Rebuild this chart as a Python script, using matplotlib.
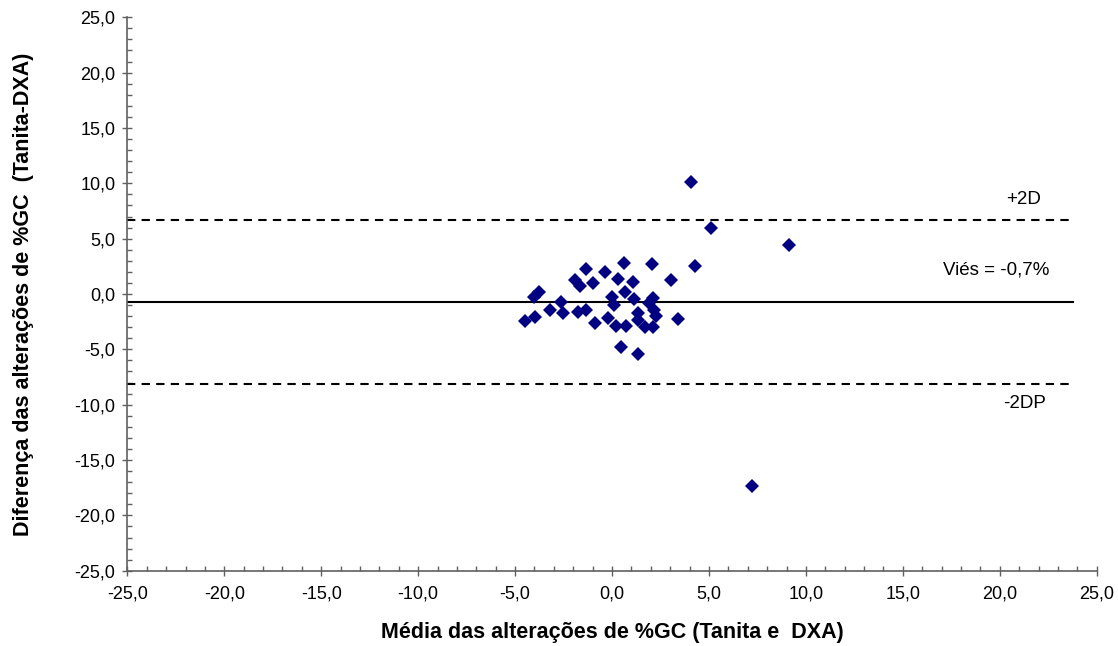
import matplotlib.pyplot as plt
from matplotlib.ticker import FuncFormatter, MultipleLocator

plt.rcParams["font.family"] = ["Liberation Sans", "DejaVu Sans"]

# mean of the two changes (x) and difference Tanita - DXA (y), in %GC
media = [
    -3.76, -4.02, -4.50, -3.98, -3.19, -2.64, -2.55, -1.91, -1.66, -1.33,
    -0.98, -1.78, -1.35, -0.87, -0.36, 0.31, 0.63, 0.00, 0.09, -0.22,
    0.20, 0.72, 0.46, 1.36, 1.07, 0.67, 1.12, 1.36, 1.36, 1.70,
    2.10, 2.05, 2.10, 1.93, 2.15, 2.27, 3.05, 3.39, 4.30, 4.08,
    5.11, 9.13, 7.23,
]
diferenca = [
    0.15, -0.24, -2.44, -2.08, -1.45, -0.70, -1.69, 1.26, 0.72, 2.26,
    0.97, -1.65, -1.45, -2.65, 1.96, 1.36, 2.77, -0.24, -0.99, -2.14,
    -2.89, -2.89, -4.76, -5.39, 1.06, 0.21, -0.48, -1.69, -2.35, -3.01,
    -3.01, 2.71, -0.39, -0.84, -1.45, -1.99, 1.26, -2.26, 2.56, 10.14,
    5.93, 4.43, -17.34,
]

vies = -0.7
dp = 3.7
limite_sup = vies + 2 * dp
limite_inf = vies - 2 * dp
linha_x = [-25, 23.8]


def virgula(v, pos):
    return f"{v:.1f}".replace(".", ",")


fig = plt.figure(figsize=(11.18, 6.46), dpi=100)
ax = fig.add_axes([0.1139, 0.1165, 0.8671, 0.8568])

ax.plot(linha_x, [vies, vies], color="black", lw=1.5)
ax.plot(linha_x, [limite_sup, limite_sup], color="black", lw=1.5, ls=(0, (4, 3)))
ax.plot(linha_x, [limite_inf, limite_inf], color="black", lw=1.5, ls=(0, (4, 3)))

ax.plot(media, diferenca, ls="none", marker="D", ms=7.5, color="#000080",
        markeredgewidth=0, zorder=3)

ax.text(21.2, 8.5, "+2D", ha="center", va="center", fontsize=13.5)
ax.text(19.8, 2.2, "Viés = -0,7%", ha="center", va="center", fontsize=13.5)
ax.text(21.3, -9.9, "-2DP", ha="center", va="center", fontsize=13.5)

ax.set_xlim(-25, 25)
ax.set_ylim(-25, 25)
ax.xaxis.set_major_locator(MultipleLocator(5))
ax.yaxis.set_major_locator(MultipleLocator(5))
ax.xaxis.set_minor_locator(MultipleLocator(1))
ax.yaxis.set_minor_locator(MultipleLocator(1))
ax.xaxis.set_major_formatter(FuncFormatter(virgula))
ax.yaxis.set_major_formatter(FuncFormatter(virgula))

for lado in ["top", "right"]:
    ax.spines[lado].set_visible(False)
for lado in ["left", "bottom"]:
    ax.spines[lado].set_color("#606060")
    ax.spines[lado].set_linewidth(1.2)

ax.tick_params(which="major", direction="inout", length=7, width=1,
               color="#606060", labelsize=13)
ax.tick_params(axis="x", which="major", pad=7)
ax.tick_params(axis="y", which="major", pad=5)
ax.tick_params(which="minor", direction="in", length=3.5, width=1,
               color="#606060")

ax.set_xlabel("Média das alterações de %GC (Tanita e  DXA)",
              fontsize=15.5, fontweight="bold", labelpad=14)
ax.set_ylabel("Diferença das alterações de %GC  (Tanita-DXA)",
              fontsize=15.5, fontweight="bold", labelpad=29)

fig.savefig("out.png", dpi=100)
